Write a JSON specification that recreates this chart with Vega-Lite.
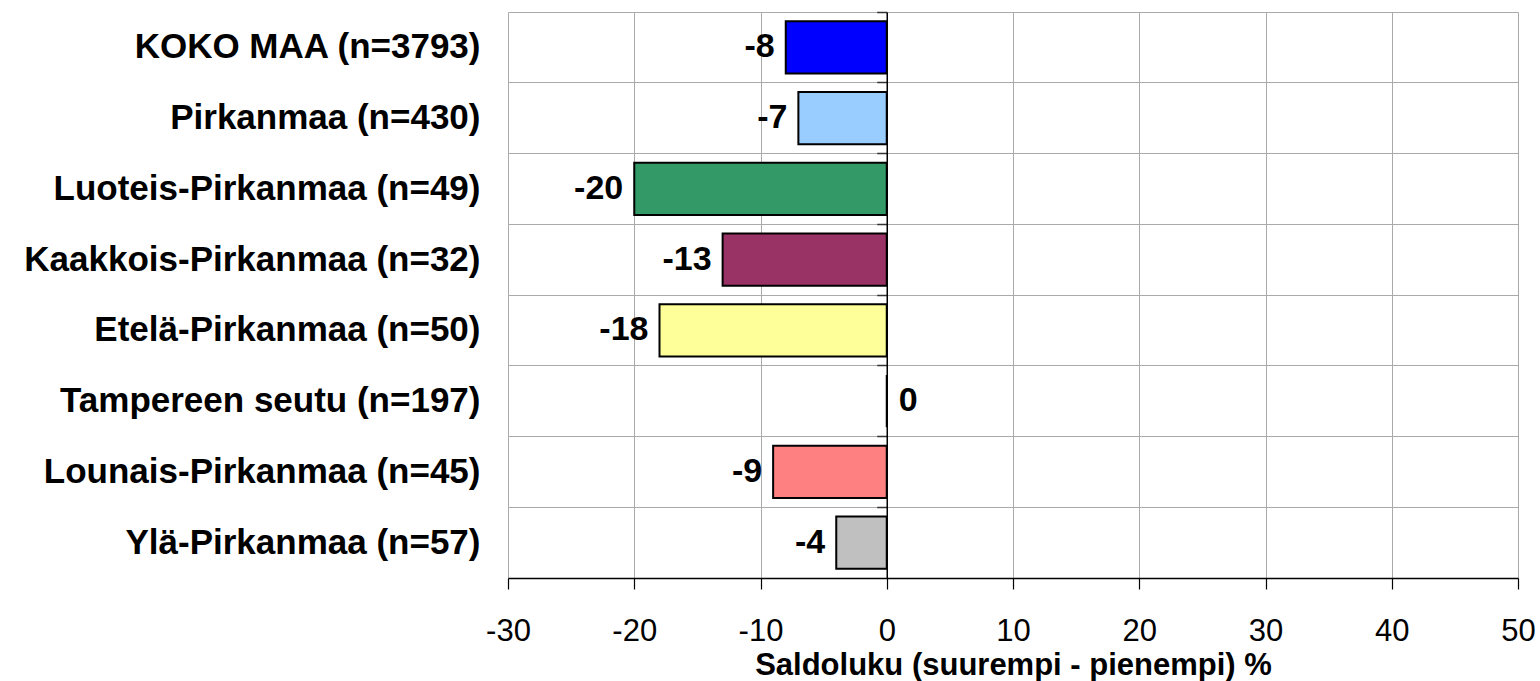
{
  "$schema": "https://vega.github.io/schema/vega-lite/v6.json",
  "width": 1010,
  "height": 566,
  "autosize": {"type": "none"},
  "padding": {"left": 508, "top": 12, "right": 22, "bottom": 103},
  "background": "white",
  "config": {
    "view": {"stroke": null},
    "font": "Liberation Sans",
    "axis": {"labelFont": "Liberation Sans", "titleFont": "Liberation Sans", "labelColor": "black", "titleColor": "black"}
  },
  "data": {
    "values": [
      {"alue": "KOKO MAA (n=3793)", "saldo": -8},
      {"alue": "Pirkanmaa (n=430)", "saldo": -7},
      {"alue": "Luoteis-Pirkanmaa (n=49)", "saldo": -20},
      {"alue": "Kaakkois-Pirkanmaa (n=32)", "saldo": -13},
      {"alue": "Etelä-Pirkanmaa (n=50)", "saldo": -18},
      {"alue": "Tampereen seutu (n=197)", "saldo": 0},
      {"alue": "Lounais-Pirkanmaa (n=45)", "saldo": -9},
      {"alue": "Ylä-Pirkanmaa (n=57)", "saldo": -4}
    ]
  },
  "encoding": {
    "x": {
      "field": "saldo",
      "type": "quantitative",
      "scale": {"domain": [-30, 50], "nice": false, "zero": false},
      "axis": {
        "values": [-30, -20, -10, 0, 10, 20, 30, 40, 50],
        "labelExpr": "replace(datum.label, '−', '-')",
        "title": "Saldoluku (suurempi - pienempi) %",
        "titleFontSize": 31,
        "titleFontWeight": "bold",
        "titleX": 505,
        "titleY": 96,
        "titleAlign": "center",
        "titleBaseline": "alphabetic",
        "labelFontSize": 31,
        "labelFontWeight": "normal",
        "labelPadding": 27,
        "labelFlush": false,
        "domainColor": "black",
        "domainWidth": 1.5,
        "tickColor": "black",
        "tickSize": 11,
        "tickWidth": 1.2,
        "grid": true,
        "gridColor": "#aaaaaa",
        "gridWidth": 1
      }
    }
  },
  "layer": [
    {
      "mark": {"type": "bar", "height": {"band": 0.735}, "stroke": "black", "strokeWidth": 2},
      "encoding": {
        "y": {
          "field": "alue",
          "type": "nominal",
          "sort": null,
          "scale": {"paddingInner": 0, "paddingOuter": 0},
          "axis": {
            "orient": "left",
            "title": null,
            "domain": false,
            "ticks": false,
            "grid": true,
            "gridColor": "#aaaaaa",
            "gridWidth": 1,
            "bandPosition": 0,
            "labelFontSize": 35,
            "labelFontWeight": "bold",
            "labelPadding": 28,
            "labelLimit": 600
          }
        },
        "color": {
          "field": "alue",
          "type": "nominal",
          "legend": null,
          "scale": {
            "domain": ["KOKO MAA (n=3793)", "Pirkanmaa (n=430)", "Luoteis-Pirkanmaa (n=49)", "Kaakkois-Pirkanmaa (n=32)", "Etelä-Pirkanmaa (n=50)", "Tampereen seutu (n=197)", "Lounais-Pirkanmaa (n=45)", "Ylä-Pirkanmaa (n=57)"],
            "range": ["#0000FF", "#99CCFF", "#339966", "#993366", "#FFFF99", "#FFCC99", "#FF8080", "#C0C0C0"]
          }
        }
      }
    },
    {
      "transform": [{"filter": "datum.saldo < 0"}],
      "mark": {"type": "text", "align": "right", "baseline": "middle", "dx": -11, "fontSize": 34, "fontWeight": "bold", "font": "Liberation Sans", "color": "black"},
      "encoding": {
        "y": {
          "field": "alue",
          "type": "nominal",
          "sort": null,
          "axis": {
            "orient": "left",
            "offset": -378.75,
            "labels": false,
            "title": null,
            "grid": false,
            "domain": true,
            "domainColor": "black",
            "domainWidth": 1.5,
            "ticks": true,
            "tickColor": "#333333",
            "tickSize": 10,
            "tickWidth": 1.5,
            "bandPosition": 0,
            "zindex": 1
          }
        },
        "text": {"field": "saldo", "type": "nominal"}
      }
    },
    {
      "transform": [{"filter": "datum.saldo >= 0"}],
      "mark": {"type": "text", "align": "left", "baseline": "middle", "dx": 12, "fontSize": 34, "fontWeight": "bold", "font": "Liberation Sans", "color": "black"},
      "encoding": {
        "y": {"field": "alue", "type": "nominal", "sort": null, "axis": null},
        "text": {"field": "saldo", "type": "nominal"}
      }
    }
  ],
  "resolve": {"axis": {"y": "independent"}}
}
